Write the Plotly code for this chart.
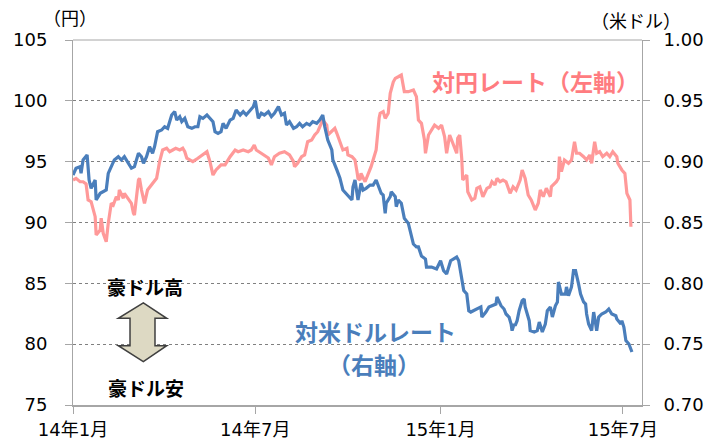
import plotly.graph_objects as go

# ---- data ----
jpy_dates = [
    "2014-01-01", "2014-01-04", "2014-01-08", "2014-01-11", "2014-01-14", "2014-01-16", "2014-01-19",
    "2014-01-23", "2014-01-24", "2014-01-28", "2014-01-29", "2014-01-31", "2014-02-03", "2014-02-05",
    "2014-02-08", "2014-02-10", "2014-02-13", "2014-02-15", "2014-02-16", "2014-02-20", "2014-02-21",
    "2014-02-25", "2014-02-28", "2014-03-02", "2014-03-03", "2014-03-07", "2014-03-08", "2014-03-10",
    "2014-03-13", "2014-03-16", "2014-03-21", "2014-03-25", "2014-03-28", "2014-03-31", "2014-04-04",
    "2014-04-07", "2014-04-10", "2014-04-13", "2014-04-17", "2014-04-20", "2014-04-22", "2014-04-24",
    "2014-04-27", "2014-04-30", "2014-05-05", "2014-05-10", "2014-05-14", "2014-05-17", "2014-05-20",
    "2014-05-23", "2014-05-28", "2014-06-01", "2014-06-06", "2014-06-11", "2014-06-14", "2014-06-19",
    "2014-06-24", "2014-06-27", "2014-06-30", "2014-07-02", "2014-07-07", "2014-07-10", "2014-07-14",
    "2014-07-17", "2014-07-20", "2014-07-25", "2014-07-30", "2014-08-04", "2014-08-08", "2014-08-09",
    "2014-08-12", "2014-08-16", "2014-08-19", "2014-08-22", "2014-08-26", "2014-08-29", "2014-09-01",
    "2014-09-06", "2014-09-10", "2014-09-11", "2014-09-15", "2014-09-18", "2014-09-20", "2014-09-23",
    "2014-09-26", "2014-09-30", "2014-10-01", "2014-10-05", "2014-10-08", "2014-10-10", "2014-10-11",
    "2014-10-13", "2014-10-14", "2014-10-18", "2014-10-21", "2014-10-24", "2014-10-26", "2014-10-29",
    "2014-11-01", "2014-11-02", "2014-11-05", "2014-11-07", "2014-11-10", "2014-11-12", "2014-11-15",
    "2014-11-17", "2014-11-20", "2014-11-23", "2014-11-26", "2014-11-30", "2014-12-05", "2014-12-08",
    "2014-12-10", "2014-12-13", "2014-12-16", "2014-12-17", "2014-12-20", "2014-12-23", "2014-12-26",
    "2014-12-30", "2015-01-02", "2015-01-05", "2015-01-07", "2015-01-10", "2015-01-13", "2015-01-17",
    "2015-01-18", "2015-01-20", "2015-01-22", "2015-01-23", "2015-01-27", "2015-01-28", "2015-02-01",
    "2015-02-04", "2015-02-06", "2015-02-09", "2015-02-12", "2015-02-16", "2015-02-19", "2015-02-21",
    "2015-02-24", "2015-02-26", "2015-03-01", "2015-03-04", "2015-03-07", "2015-03-11", "2015-03-14",
    "2015-03-17", "2015-03-21", "2015-03-23", "2015-03-26", "2015-03-29", "2015-04-01", "2015-04-05",
    "2015-04-08", "2015-04-10", "2015-04-13", "2015-04-16", "2015-04-20", "2015-04-21", "2015-04-26",
    "2015-04-28", "2015-04-29", "2015-05-01", "2015-05-04", "2015-05-08", "2015-05-11", "2015-05-14",
    "2015-05-16", "2015-05-19", "2015-05-23", "2015-05-26", "2015-05-29", "2015-05-31", "2015-06-03",
    "2015-06-05", "2015-06-08", "2015-06-11", "2015-06-15", "2015-06-18", "2015-06-21", "2015-06-25",
    "2015-06-26", "2015-06-30", "2015-07-03", "2015-07-05", "2015-07-08", "2015-07-09",
]
jpy_values = [
    93.49, 93.63, 93.35, 93.35, 93.17, 91.85, 91.71,
    90.48, 88.97, 89.38, 90.35, 89.11, 88.42, 89.93,
    91.58, 91.44, 92.12, 91.85, 92.67, 91.99, 92.40,
    91.99, 91.58, 90.76, 90.62, 93.49, 93.63, 92.67,
    91.58, 92.67, 93.22, 93.63, 95.00, 95.96, 96.10,
    95.82, 95.96, 96.10, 95.96, 96.10, 95.82, 95.28,
    95.14, 95.00, 95.28, 95.55, 95.82, 95.00, 93.90,
    94.32, 94.73, 94.73, 95.41, 95.96, 95.82, 95.96,
    95.82, 95.96, 96.37, 95.96, 95.69, 95.47, 95.30,
    94.73, 95.41, 95.69, 95.82, 95.55, 95.00, 94.59,
    94.87, 95.41, 95.55, 96.64, 96.78, 97.19, 97.46,
    98.42, 98.01, 97.19, 97.46, 97.74, 97.33, 96.64,
    95.96, 96.10, 95.55, 95.41, 95.14, 94.18, 93.63,
    93.49, 94.04, 93.35, 93.90, 94.59, 95.14, 95.96,
    98.59, 98.98, 99.11, 98.56, 98.98, 100.62, 101.55,
    101.85, 101.98, 102.12, 100.75, 100.75, 100.89, 100.34,
    98.42, 98.15, 96.78, 95.69, 97.19, 97.60, 98.01,
    97.74, 98.01, 97.05, 95.69, 97.19, 96.51, 95.69,
    96.92, 97.19, 95.28, 93.49, 93.90, 92.53, 91.85,
    91.99, 92.81, 92.94, 92.12, 92.81, 92.94, 93.35,
    93.08, 93.63, 93.35, 93.49, 93.35, 92.40, 92.94,
    92.67, 93.49, 94.32, 93.63, 92.26, 91.85, 91.03,
    91.58, 92.67, 92.12, 92.81, 92.12, 92.94, 93.35,
    93.63, 95.41, 94.18, 95.14, 94.87, 95.14, 96.64,
    95.69, 95.69, 95.41, 95.14, 95.55, 94.87, 96.64,
    95.69, 95.82, 95.41, 95.69, 95.41, 95.82, 95.41,
    94.87, 94.32, 94.04, 92.40, 91.85, 89.65,
]

usd_dates = [
    "2014-01-01", "2014-01-04", "2014-01-08", "2014-01-09", "2014-01-11", "2014-01-15", "2014-01-17",
    "2014-01-19", "2014-01-23", "2014-01-24", "2014-01-28", "2014-01-31", "2014-02-03", "2014-02-05",
    "2014-02-08", "2014-02-11", "2014-02-15", "2014-02-18", "2014-02-21", "2014-02-25", "2014-02-28",
    "2014-03-03", "2014-03-07", "2014-03-10", "2014-03-12", "2014-03-15", "2014-03-18", "2014-03-21",
    "2014-03-23", "2014-03-26", "2014-03-30", "2014-04-02", "2014-04-05", "2014-04-09", "2014-04-12",
    "2014-04-14", "2014-04-17", "2014-04-19", "2014-04-22", "2014-04-25", "2014-04-29", "2014-05-02",
    "2014-05-05", "2014-05-07", "2014-05-10", "2014-05-14", "2014-05-17", "2014-05-20", "2014-05-22",
    "2014-05-25", "2014-05-28", "2014-05-30", "2014-06-02", "2014-06-06", "2014-06-09", "2014-06-12",
    "2014-06-16", "2014-06-19", "2014-06-22", "2014-06-26", "2014-06-29", "2014-07-01", "2014-07-04",
    "2014-07-07", "2014-07-10", "2014-07-14", "2014-07-17", "2014-07-20", "2014-07-24", "2014-07-27",
    "2014-07-30", "2014-08-01", "2014-08-04", "2014-08-08", "2014-08-11", "2014-08-14", "2014-08-17",
    "2014-08-21", "2014-08-24", "2014-08-27", "2014-08-31", "2014-09-03", "2014-09-06", "2014-09-08",
    "2014-09-11", "2014-09-15", "2014-09-16", "2014-09-20", "2014-09-23", "2014-09-26", "2014-09-30",
    "2014-10-03", "2014-10-05", "2014-10-06", "2014-10-08", "2014-10-11", "2014-10-14", "2014-10-16",
    "2014-10-19", "2014-10-23", "2014-10-26", "2014-10-29", "2014-10-31", "2014-11-03", "2014-11-05",
    "2014-11-07", "2014-11-08", "2014-11-12", "2014-11-13", "2014-11-17", "2014-11-18", "2014-11-20",
    "2014-11-23", "2014-11-25", "2014-11-26", "2014-11-30", "2014-12-03", "2014-12-05", "2014-12-08",
    "2014-12-10", "2014-12-13", "2014-12-17", "2014-12-18", "2014-12-23", "2014-12-28", "2015-01-01",
    "2015-01-04", "2015-01-07", "2015-01-11", "2015-01-14", "2015-01-17", "2015-01-19", "2015-01-22",
    "2015-01-24", "2015-01-27", "2015-01-29", "2015-01-31", "2015-02-03", "2015-02-06", "2015-02-10",
    "2015-02-11", "2015-02-15", "2015-02-18", "2015-02-21", "2015-02-25", "2015-02-26", "2015-03-02",
    "2015-03-05", "2015-03-07", "2015-03-10", "2015-03-12", "2015-03-13", "2015-03-15", "2015-03-16",
    "2015-03-18", "2015-03-20", "2015-03-23", "2015-03-25", "2015-03-26", "2015-03-30", "2015-03-31",
    "2015-04-04", "2015-04-07", "2015-04-09", "2015-04-12", "2015-04-15", "2015-04-17", "2015-04-20",
    "2015-04-22", "2015-04-25", "2015-04-27", "2015-04-28", "2015-05-01", "2015-05-05", "2015-05-06",
    "2015-05-08", "2015-05-11", "2015-05-13", "2015-05-15", "2015-05-18", "2015-05-20", "2015-05-23",
    "2015-05-25", "2015-05-26", "2015-05-28", "2015-05-31", "2015-06-02", "2015-06-04", "2015-06-05",
    "2015-06-07", "2015-06-10", "2015-06-14", "2015-06-17", "2015-06-20", "2015-06-24", "2015-06-25",
    "2015-06-29", "2015-06-30", "2015-07-02", "2015-07-04", "2015-07-07", "2015-07-10",
]
usd_values = [
    0.8890, 0.8946, 0.8959, 0.8904, 0.9014, 0.9055, 0.8849,
    0.8781, 0.8849, 0.8685, 0.8740, 0.8753, 0.8767, 0.8904,
    0.8959, 0.9014, 0.9041, 0.9014, 0.9041, 0.8987, 0.8946,
    0.8959, 0.9069, 0.9041, 0.8987, 0.9041, 0.9123, 0.9069,
    0.9123, 0.9246, 0.9260, 0.9287, 0.9274, 0.9384, 0.9411,
    0.9342, 0.9370, 0.9329, 0.9356, 0.9287, 0.9274, 0.9287,
    0.9287, 0.9370, 0.9356, 0.9384, 0.9356, 0.9329, 0.9246,
    0.9233, 0.9246, 0.9315, 0.9274, 0.9342, 0.9356, 0.9425,
    0.9384, 0.9411, 0.9384, 0.9425, 0.9452, 0.9501, 0.9356,
    0.9398, 0.9384, 0.9411, 0.9370, 0.9398, 0.9452, 0.9384,
    0.9398, 0.9301, 0.9329, 0.9274, 0.9287, 0.9315, 0.9287,
    0.9315, 0.9301, 0.9329, 0.9315, 0.9342, 0.9384, 0.9287,
    0.9178, 0.9096, 0.9014, 0.8932, 0.8866, 0.8767, 0.8726,
    0.8701, 0.8685, 0.8792, 0.8849, 0.8685, 0.8822, 0.8767,
    0.8781, 0.8808, 0.8808, 0.8849, 0.8808, 0.8740, 0.8726,
    0.8576, 0.8658, 0.8712, 0.8753, 0.8712, 0.8630, 0.8685,
    0.8658, 0.8576, 0.8535, 0.8493, 0.8383, 0.8323, 0.8299,
    0.8299, 0.8225, 0.8200, 0.8134, 0.8134, 0.8118, 0.8186,
    0.8104, 0.8077, 0.8186, 0.8200, 0.8216, 0.8186, 0.8052,
    0.7940, 0.7912, 0.7775, 0.7764, 0.7775, 0.7789, 0.7806,
    0.7723, 0.7764, 0.7806, 0.7816, 0.7830, 0.7888, 0.7816,
    0.7789, 0.7748, 0.7723, 0.7666, 0.7611, 0.7666, 0.7652,
    0.7693, 0.7775, 0.7857, 0.7871, 0.7806, 0.7693, 0.7611,
    0.7600, 0.7611, 0.7682, 0.7600, 0.7666, 0.7775, 0.7806,
    0.7723, 0.7816, 0.7847, 0.8011, 0.7912, 0.7912, 0.7970,
    0.7898, 0.7970, 0.8104, 0.8104, 0.7995, 0.7912, 0.7847,
    0.7830, 0.7748, 0.7666, 0.7611, 0.7764, 0.7666, 0.7611,
    0.7723, 0.7748, 0.7764, 0.7789, 0.7748, 0.7734, 0.7707,
    0.7666, 0.7693, 0.7641, 0.7529, 0.7501, 0.7436,
]

x_tick_dates = ["2014-01-01", "2014-07-01", "2015-01-01", "2015-07-01"]
x_tick_labels = ["14年1月", "14年7月", "15年1月", "15年7月"]
left_ticks = [75, 80, 85, 90, 95, 100, 105]
right_ticks = [0.70, 0.75, 0.80, 0.85, 0.90, 0.95, 1.00]
right_tick_labels = ["0.70", "0.75", "0.80", "0.85", "0.90", "0.95", "1.00"]

FONT = "Noto Sans CJK JP"
NUMFONT = "DejaVu Sans, Noto Sans CJK JP"
PINK_LINE = "#FF9999"
PINK_TEXT = "#FF7C80"
BLUE = "#4A7EBB"
AXIS_GREY = "#A6A6A6"
GRID_GREY = "#808080"

fig = go.Figure()
fig.add_trace(go.Scatter(x=jpy_dates, y=jpy_values, mode="lines", yaxis="y",
                         line=dict(color=PINK_LINE, width=3.2), name="対円レート（左軸）"))
fig.add_trace(go.Scatter(x=usd_dates, y=usd_values, mode="lines", yaxis="y2",
                         line=dict(color=BLUE, width=3.2), name="対米ドルレート（右軸）"))

fig.update_layout(
    width=709, height=448,
    margin=dict(l=73, r=67, t=40, b=43),
    plot_bgcolor="white", paper_bgcolor="white",
    showlegend=False,
    font=dict(family=FONT, size=17, color="black"),
    xaxis=dict(
        type="date", range=["2014-01-01", "2015-07-20"],
        tickvals=x_tick_dates, ticktext=x_tick_labels,
        ticks="outside", ticklen=7, tickcolor=AXIS_GREY, tickwidth=1,
        showline=True, linecolor=AXIS_GREY, linewidth=2,
        showgrid=False, zeroline=False, automargin=False,
        tickfont=dict(family=NUMFONT, size=18, color="black"),
    ),
    yaxis=dict(
        range=[75, 105], tickvals=left_ticks,
        ticks="outside", ticklen=7, tickcolor=AXIS_GREY,
        showline=True, linecolor=AXIS_GREY, linewidth=1,
        showgrid=True, gridcolor=GRID_GREY, griddash="dot", gridwidth=1,
        zeroline=False, ticklabelstandoff=14, automargin=False,
        tickfont=dict(family=NUMFONT, size=18, color="black"),
    ),
    yaxis2=dict(
        range=[0.70, 1.00], tickvals=right_ticks, ticktext=right_tick_labels,
        overlaying="y", side="right",
        ticks="outside", ticklen=7, tickcolor=AXIS_GREY,
        showline=True, linecolor=AXIS_GREY, linewidth=1,
        showgrid=False, zeroline=False, ticklabelstandoff=10, automargin=False,
        tickfont=dict(family=NUMFONT, size=18, color="black"),
    ),
)

# top border of plot area
fig.add_shape(type="line", xref="paper", yref="paper", x0=0, x1=1, y0=1, y1=1,
              line=dict(color=AXIS_GREY, width=1))

# up/down arrow (decoration)
arrow_path = ("M 0.1236 0.2795 L 0.1647 0.2375 L 0.1441 0.2375 L 0.1441 0.1625 "
              "L 0.1647 0.1625 L 0.1236 0.1186 L 0.0796 0.1625 L 0.1002 0.1625 "
              "L 0.1002 0.2375 L 0.0796 0.2375 Z")
fig.add_shape(type="path", xref="paper", yref="paper", path=arrow_path,
              fillcolor="#DDD9C3", line=dict(color="#404040", width=1.5))

ann = [
    dict(text="（円）", x=-0.005, y=1.063, size=18, color="black", bold=False),
    dict(text="（米ドル）", x=0.9886, y=1.055, size=18, color="black", bold=False),
    dict(text="対円レート（左軸）", x=0.8128, y=0.8877, size=23, color=PINK_TEXT, bold=True),
    dict(text="対米ドルレート", x=0.5316, y=0.2027, size=23, color=BLUE, bold=True),
    dict(text="（右軸）", x=0.529, y=0.1123, size=23, color=BLUE, bold=True),
    dict(text="豪ドル高", x=0.1265, y=0.326, size=19, color="black", bold=True),
    dict(text="豪ドル安", x=0.129, y=0.049, size=19, color="black", bold=True),
]
for a in ann:
    t = f"<b>{a['text']}</b>" if a["bold"] else a["text"]
    fig.add_annotation(text=t, x=a["x"], y=a["y"], xref="paper", yref="paper",
                       xanchor="center", yanchor="middle", showarrow=False,
                       font=dict(family=FONT, size=a["size"], color=a["color"]))

fig.write_html(
    "out.html",
    config={"displayModeBar": False},
    post_script="document.body.style.margin='0px';document.body.style.padding='0px';",
)
